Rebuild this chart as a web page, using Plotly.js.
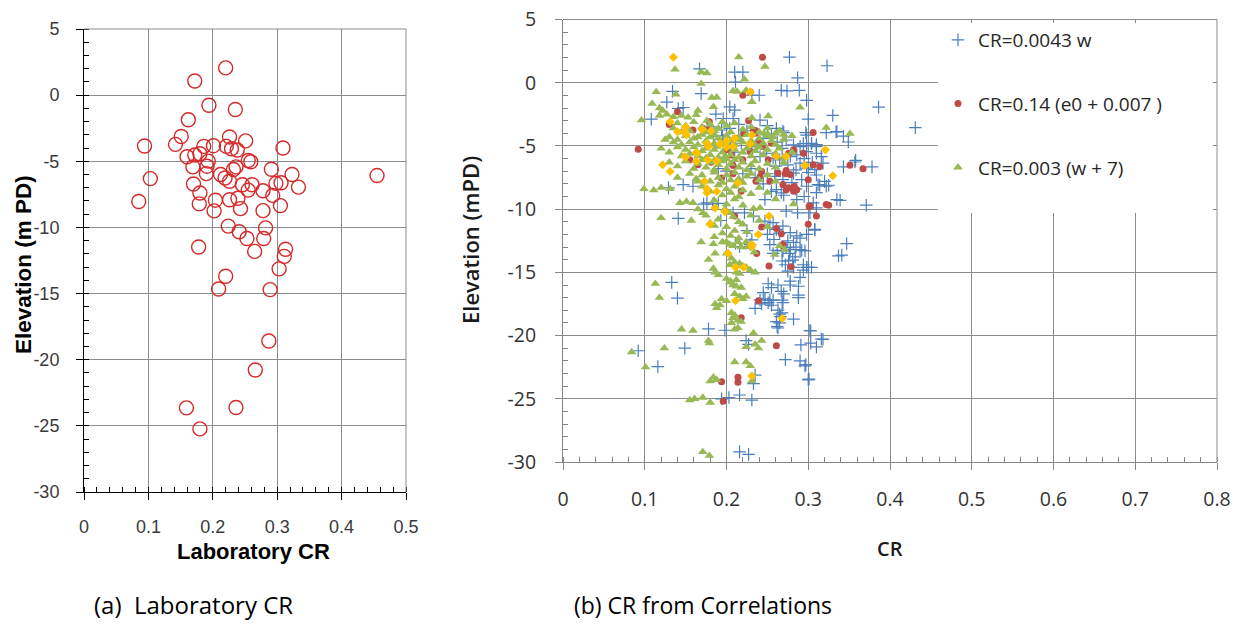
<!DOCTYPE html>
<html>
<head>
<meta charset="utf-8">
<script src="https://cdn.plot.ly/plotly-3.0.1.min.js"></script>
<style>html,body{margin:0;padding:0;background:#fff;}#chart{width:1238px;height:624px;}</style>
</head>
<body>
<div id="chart"></div>
<script>
// ---------- (a) Laboratory CR ----------
const labCR = [0.220,0.172,0.194,0.235,0.162,0.094,0.142,0.151,0.226,0.251,0.186,0.201,0.221,0.238,0.229,0.309,0.160,0.172,0.180,0.193,0.191,0.190,0.169,0.259,0.255,0.236,0.232,0.291,0.323,0.455,0.103,0.212,0.219,0.226,0.170,0.246,0.261,0.298,0.306,0.333,0.180,0.255,0.278,0.293,0.226,0.239,0.204,0.085,0.179,0.243,0.202,0.278,0.305,0.224,0.241,0.282,0.253,0.279,0.178,0.265,0.313,0.311,0.303,0.220,0.209,0.289,0.287,0.266,0.159,0.236,0.180];
const labElev = [2.06,1.07,-0.76,-1.09,-1.86,-3.84,-3.72,-3.13,-3.16,-3.46,-3.87,-3.82,-3.87,-4.15,-4.05,-4.00,-4.66,-4.53,-4.43,-4.99,-5.37,-5.93,-5.42,-5.04,-4.94,-5.42,-5.62,-5.60,-6.00,-6.08,-6.31,-6.00,-6.26,-6.51,-6.72,-6.77,-6.77,-6.67,-6.62,-6.95,-7.40,-7.18,-7.23,-7.58,-7.91,-7.79,-7.94,-8.04,-8.22,-8.58,-8.75,-8.73,-8.35,-9.90,-10.33,-10.03,-10.84,-10.84,-11.48,-11.81,-11.65,-12.19,-13.13,-13.69,-14.65,-14.70,-18.59,-20.78,-23.64,-23.61,-25.23];

// ---------- (b) CR from correlations ----------
// CR = 0.0043 w
const crW_x = [0.277,0.323,0.167,0.210,0.220,0.211,0.287,0.134,0.169,0.231,0.240,0.267,0.274,0.289,0.127,0.298,0.386,0.431,0.141,0.147,0.204,0.210,0.108,0.330,0.187,0.196,0.208,0.241,0.300,0.261,0.269,0.322,0.335,0.298,0.194,0.204,0.184,0.196,0.218,0.231,0.237,0.273,0.282,0.290,0.298,0.304,0.310,0.310,0.316,0.298,0.286,0.278,0.265,0.257,0.249,0.241,0.290,0.298,0.308,0.318,0.259,0.269,0.282,0.292,0.261,0.267,0.298,0.312,0.322,0.335,0.147,0.159,0.129,0.176,0.190,0.247,0.286,0.306,0.273,0.287,0.302,0.310,0.141,0.208,0.222,0.233,0.247,0.257,0.308,0.253,0.261,0.269,0.278,0.286,0.282,0.273,0.231,
0.334,0.343,0.349,0.297,0.270,0.294,0.304,0.310,0.358,0.378,0.339,0.371,0.347,0.341,0.357,0.343,0.314,0.325,0.308,0.294,0.300,0.304,0.292,0.284,0.281,0.268,0.272,0.276,0.262,0.268,0.277,0.251,0.255,0.263,0.267,0.270,0.278,0.288,0.288,0.245,0.241,0.251,0.268,0.288,
0.235,0.263,0.268,0.266,0.261,0.262,0.282,0.303,0.316,0.291,0.303,0.310,0.272,0.290,0.297,0.301,0.235,0.231,
0.216,0.253,0.257,0.269,0.278,0.290,0.133,0.140,0.178,0.198,0.224,0.227,0.092,0.149,0.116,0.233,0.216,0.203,0.194,0.216,0.227,0.247,0.243,0.253,0.255,0.265,0.265,0.263,0.302,0.318,0.296,0.300,0.275,0.282,0.294,0.298,0.337,0.257,0.269,0.278,0.290,
0.172,0.183,0.193,0.211,0.229,0.225,
0.205,0.210,0.215,0.225,0.245,0.250,0.255,0.262,0.268,0.275,0.285,0.295,0.305,0.310,0.280,0.270,0.285,0.295,0.310,0.320,0.300,0.260,0.250,0.245,0.255,0.235,0.230,0.220,0.210,0.200,0.190,0.195,0.215,0.180,0.250,0.258,0.265,0.275,0.290,0.298,0.285,0.296];
const crW_y = [2.02,1.34,1.10,0.84,0.84,0.05,0.39,-0.68,-0.86,-0.99,-0.99,-0.60,-0.65,-0.60,-1.54,-1.39,-1.93,-3.55,-2.04,-1.96,-1.91,-2.17,-2.88,-2.59,-2.49,-2.83,-2.83,-2.96,-2.88,-3.61,-3.82,-3.95,-3.87,-4.14,-3.74,-3.61,-4.27,-4.53,-4.79,-5.31,-5.05,-4.53,-4.92,-5.05,-5.00,-4.79,-5.05,-5.58,-5.84,-5.45,-5.71,-5.84,-6.10,-5.97,-5.58,-5.84,-6.36,-6.75,-6.88,-6.36,-7.41,-7.67,-7.15,-7.67,-8.46,-8.72,-8.19,-8.06,-8.19,-9.24,-8.06,-8.19,-8.32,-9.50,-9.55,-9.24,-9.24,-9.50,-10.16,-10.29,-10.29,-9.90,-10.73,-10.29,-10.29,-10.55,-10.94,-11.07,-11.60,-11.47,-11.60,-11.34,-11.86,-12.12,-12.64,-13.04,-12.43,
-3.90,-4.22,-4.69,-3.95,-3.95,-4.82,-4.82,-4.90,-6.14,-6.66,-9.30,-9.69,-12.72,-13.64,-6.27,-6.66,-8.11,-8.11,-11.67,-14.83,-14.60,-14.60,-13.25,-13.78,-14.04,-14.10,-14.40,-14.10,-13.26,-13.26,-13.50,-15.90,-16.20,-16.00,-16.50,-16.70,-16.00,-16.10,-16.80,-16.60,-17.20,-17.40,-17.20,-17.00,
-17.85,-17.99,-18.20,-18.50,-18.90,-19.30,-18.70,-19.64,-20.27,-20.74,-20.60,-20.90,-21.90,-22.00,-22.30,-23.44,-23.13,-25.10,
-12.96,-12.80,-13.50,-13.30,-13.20,-13.20,-15.79,-17.04,-19.47,-19.58,-20.40,-20.70,-21.20,-21.00,-22.46,-23.80,-24.70,-24.90,-25.00,-29.20,-29.40,-17.10,-17.50,-17.20,-17.60,-18.30,-19.00,-19.40,-19.60,-20.30,-22.40,-23.50,-14.90,-14.60,-14.40,-14.60,-13.70,-17.20,-17.40,-15.70,-15.40,
-9.60,-9.60,-10.90,-12.70,-12.80,-11.70,
-4.90,-5.50,-4.20,-3.80,-4.40,-3.40,-4.10,-4.70,-5.20,-6.50,-6.90,-6.00,-6.30,-7.30,-7.90,-8.90,-8.40,-9.00,-8.70,-7.80,-7.10,-6.60,-7.20,-8.00,-8.60,-7.50,-6.80,-7.20,-6.60,-7.00,-6.80,-4.20,-3.30,-3.50,-12.00,-12.40,-11.90,-12.50,-12.30,-12.00,-13.00,-13.30];

// CR = 0.14 (e0 + 0.007)
const crE_x = [0.244,0.092,0.140,0.130,0.179,0.220,0.229,0.227,0.233,0.236,0.221,0.306,0.159,0.171,0.178,0.206,0.208,0.220,0.239,0.244,0.255,0.251,0.243,0.241,0.253,0.263,0.269,0.273,0.282,0.286,0.282,0.294,0.276,0.306,0.314,0.300,0.302,0.300,0.310,0.322,0.194,0.208,0.218,0.210,0.243,0.261,0.267,0.155,0.165,0.229,0.273,0.351,0.367,0.325,0.301,0.279,0.252,0.237,0.239,0.269,0.218,0.261,0.194,0.214,0.214,0.196,0.272,0.278,0.269,0.276,0.283,0.235,0.181,0.200,0.236];
const crE_y = [2.02,-5.26,-2.30,-3.30,-3.09,-0.99,-0.73,-3.01,-3.74,-3.80,-4.00,-3.93,-3.74,-3.61,-3.74,-5.71,-6.54,-6.10,-4.66,-5.05,-4.79,-6.10,-7.02,-7.41,-7.80,-7.15,-8.06,-8.46,-8.59,-8.46,-5.31,-5.58,-5.58,-6.49,-6.62,-7.67,-9.76,-11.20,-10.55,-9.63,-7.54,-7.20,-8.59,-10.55,-11.41,-11.54,-11.94,-6.10,-6.49,-5.45,-6.94,-6.53,-6.80,-9.69,-9.80,-14.56,-14.50,-13.50,-17.25,-12.90,-18.60,-20.80,-23.65,-23.30,-23.70,-25.20,-7.20,-7.25,-12.80,-8.30,-8.20,-4.00,-6.30,-5.30,-7.80];

// CR = 0.003 (w + 7)
const crW7_x = [0.215,0.137,0.247,0.169,0.176,0.222,0.169,0.114,0.138,0.208,0.213,0.224,0.109,0.096,0.182,0.188,0.184,0.231,0.251,0.290,0.322,0.118,0.122,0.127,0.118,0.135,0.145,0.153,0.163,0.165,0.176,0.351,0.246,0.251,0.257,0.231,0.231,
0.140,0.150,0.160,0.170,0.180,0.185,0.190,0.200,0.205,0.210,0.220,0.230,0.155,0.135,0.145,0.175,0.195,0.240,0.250,0.260,0.270,0.280,0.265,
0.130,0.140,0.150,0.155,0.160,0.165,0.170,0.175,0.180,0.185,0.190,0.195,0.200,0.205,0.210,0.215,0.220,0.225,0.230,0.235,0.240,0.245,0.250,0.255,0.260,0.270,0.145,0.135,0.125,0.165,0.185,0.200,0.213,
0.120,0.130,0.140,0.145,0.150,0.155,0.160,0.165,0.170,0.175,0.180,0.185,0.190,0.195,0.200,0.205,0.210,0.215,0.220,0.225,0.230,0.235,0.240,0.245,0.250,0.260,0.265,0.270,0.280,0.175,0.188,0.198,0.208,
0.130,0.140,0.150,0.160,0.165,0.170,0.175,0.180,0.185,0.190,0.195,0.200,0.205,0.210,0.215,0.220,0.225,0.230,0.235,0.240,0.250,0.260,0.270,0.185,0.200,
0.140,0.155,0.163,0.170,0.180,0.185,0.190,0.195,0.200,0.205,0.210,0.215,0.220,0.225,0.230,0.240,0.250,0.260,
0.099,0.111,0.120,0.131,0.170,0.180,0.190,0.195,0.200,0.205,0.210,0.215,0.220,0.230,0.240,0.250,0.143,0.151,0.159,0.185,0.200,0.210,0.220,0.233,0.241,0.282,0.260,0.165,
0.165,0.171,0.120,0.157,0.198,0.204,0.208,0.190,0.215,0.185,0.200,0.210,0.220,0.195,0.205,0.215,0.225,0.180,0.230,0.240,0.250,0.175,0.185,0.195,
0.169,0.184,0.186,0.200,0.204,0.208,0.214,0.218,0.224,0.226,0.234,0.259,0.265,0.271,0.200,0.206,0.210,0.204,0.216,0.220,0.224,0.212,0.216,0.229,0.235,0.184,0.186,0.178,0.190,
0.113,0.118,0.204,0.208,0.212,0.218,0.210,0.216,0.220,0.224,0.186,0.188,0.192,0.194,0.200,0.206,0.208,0.206,0.210,0.214,0.218,0.214,0.210,0.145,0.159,0.178,0.179,0.233,0.243,0.200,0.205,0.212,
0.124,0.084,0.101,0.224,0.235,0.239,0.210,0.224,0.229,0.180,0.184,0.188,0.231,0.155,0.161,0.171,0.180,0.171,0.179];
const crW7_y = [2.02,1.05,1.28,0.84,0.76,0.26,-0.08,-0.73,-0.92,-0.65,-0.70,-0.60,-1.65,-2.96,-1.18,-1.15,-1.91,-1.52,-2.64,-1.96,-3.56,-2.00,-2.20,-2.50,-2.60,-2.70,-2.60,-2.75,-2.55,-2.20,-3.00,-4.03,-4.00,-4.10,-4.30,-2.80,-1.50,
-3.20,-3.40,-3.10,-3.50,-3.30,-3.80,-3.60,-3.40,-3.90,-3.20,-3.70,-3.50,-3.80,-3.60,-3.90,-3.90,-3.10,-3.90,-3.60,-4.00,-4.10,-4.20,-3.80,
-4.30,-4.50,-4.20,-4.70,-4.40,-4.90,-4.10,-4.60,-4.30,-4.80,-4.40,-4.90,-4.20,-4.60,-4.90,-4.30,-4.70,-4.10,-4.60,-4.90,-4.40,-4.80,-4.20,-4.60,-4.90,-4.50,-4.90,-4.70,-4.50,-4.30,-4.10,-4.80,-4.50,
-5.20,-5.50,-5.10,-5.80,-5.30,-5.60,-5.10,-5.80,-5.40,-5.20,-5.70,-5.30,-5.90,-5.50,-5.10,-5.70,-5.30,-5.90,-5.50,-5.20,-5.80,-5.40,-5.10,-5.70,-5.30,-5.60,-5.20,-5.90,-5.50,-5.95,-5.05,-5.85,-5.05,
-6.30,-6.60,-6.20,-6.80,-6.40,-6.10,-6.70,-6.30,-6.90,-6.50,-6.20,-6.80,-6.40,-6.10,-6.70,-6.30,-6.90,-6.50,-6.20,-6.80,-6.40,-6.70,-6.30,-6.15,-6.05,
-7.50,-7.20,-7.60,-7.30,-7.80,-7.10,-7.50,-7.90,-7.30,-7.70,-7.10,-7.60,-7.90,-7.40,-7.20,-7.70,-7.30,-7.80,
-8.40,-8.50,-8.30,-8.40,-8.20,-8.60,-8.10,-8.90,-8.40,-8.70,-8.20,-9.00,-8.50,-8.80,-8.30,-8.70,-9.50,-9.40,-9.50,-9.30,-9.60,-9.20,-9.70,-9.97,-9.90,-9.60,-9.20,-7.80,
-10.00,-10.30,-10.70,-10.90,-10.00,-10.30,-10.60,-10.80,-11.00,-11.30,-11.40,-11.70,-11.20,-11.90,-12.10,-12.30,-11.80,-11.10,-10.50,-10.90,-11.40,-10.50,-12.20,-12.60,
-12.60,-12.75,-13.50,-12.60,-12.80,-12.90,-12.60,-13.00,-12.60,-13.00,-13.40,-13.60,-12.90,-13.20,-13.50,-13.90,-14.20,-14.40,-14.30,-14.50,-14.60,-15.00,-15.10,-14.80,-15.00,-14.70,-15.00,-14.00,-15.20,
-15.90,-17.00,-15.80,-16.00,-16.10,-16.20,-16.70,-16.90,-17.10,-16.90,-17.50,-17.80,-17.60,-17.10,-17.25,-18.20,-18.60,-19.00,-18.40,-18.80,-18.90,-19.40,-19.50,-19.50,-19.60,-20.40,-20.60,-19.80,-20.40,-15.50,-15.70,-15.60,
-21.00,-21.30,-22.50,-20.90,-20.70,-21.00,-22.10,-22.10,-22.40,-23.60,-23.30,-23.50,-23.60,-25.10,-25.00,-24.90,-25.30,-29.20,-29.50];

// unlabelled series (yellow diamonds)
const crY_x = [0.135,0.229,0.131,0.140,0.149,0.151,0.150,0.170,0.181,0.176,0.122,0.131,0.149,0.163,0.173,0.176,0.176,0.188,0.186,0.198,0.180,0.214,0.252,0.231,0.321,0.330,0.296,0.273,0.261,0.231,0.229,0.210,0.208,0.178,0.192,0.163,0.164,0.150,0.177,0.188,0.200,0.200,0.239,0.231,0.202,0.211,0.221,0.211,0.268,0.231];
const crY_y = [2.02,-0.73,-3.09,-3.87,-3.87,-4.14,-3.50,-3.70,-3.80,-4.80,-6.49,-7.02,-5.84,-5.52,-7.80,-8.40,-8.70,-8.60,-9.90,-10.20,-11.20,-7.93,-10.55,-12.80,-5.31,-7.36,-6.54,-5.84,-5.84,-4.14,-4.84,-4.40,-5.05,-5.05,-4.84,-6.23,-5.60,-5.90,-6.10,-6.20,-4.60,-5.10,-12.00,-12.96,-13.50,-14.60,-14.60,-17.25,-18.65,-23.20];

const legendNames = ['CR=0.0043 w', 'CR=0.14 (e0 + 0.007 )', 'CR=0.003 (w + 7)'];
const xTicksLeft = ['0', '0.1', '0.2', '0.3', '0.4', '0.5'];
const xTicksRight = ['0', '0.1', '0.2', '0.3', '0.4', '0.5', '0.6', '0.7', '0.8'];
const yTicks = ['-30', '-25', '-20', '-15', '-10', '-5', '0', '5'];

const W = 1238, H = 624;
const px = v => v / W;
const py = v => 1 - v / H;

const traces = [
  {x: labCR, y: labElev, xaxis: 'x', yaxis: 'y', type: 'scatter', mode: 'markers', showlegend: false,
   marker: {symbol: 'circle-open', size: 14, color: 'rgb(214,40,40)', line: {width: 1.4, color: 'rgb(214,40,40)'}}},
  {x: crW_x, y: crW_y, xaxis: 'x2', yaxis: 'y2', type: 'scatter', mode: 'markers', name: legendNames[0], legendgroup: 'a',
   marker: {symbol: 'cross-thin-open', size: 9, color: '#4A7EBB', line: {width: 1.2, color: '#4A7EBB'}}},
  {x: crE_x, y: crE_y, xaxis: 'x2', yaxis: 'y2', type: 'scatter', mode: 'markers', name: legendNames[1], legendgroup: 'b',
   marker: {symbol: 'circle', size: 7, color: '#BE4B48'}},
  {x: crW7_x, y: crW7_y, xaxis: 'x2', yaxis: 'y2', type: 'scatter', mode: 'markers', name: legendNames[2], legendgroup: 'c',
   marker: {symbol: 'triangle-up', size: 8.5, color: '#98B954'}},
  {x: crY_x, y: crY_y, xaxis: 'x2', yaxis: 'y2', type: 'scatter', mode: 'markers', showlegend: false,
   marker: {symbol: 'diamond', size: 7, color: '#FFC000'}}
];

const leftFont = {family: 'Liberation Sans, Arial, sans-serif', size: 18, color: '#3a3a3a'};
const rightFont = {family: 'Open Sans, sans-serif', size: 19.5, color: '#333'};

function axisCommon(lineColor, tickColor, font) {
  return {showline: true, linecolor: lineColor, linewidth: 1, showgrid: true, gridcolor: '#8c8c8c', gridwidth: 1,
          zeroline: false, ticks: 'outside', ticklen: 7, tickcolor: tickColor, tickwidth: 1, tickfont: font, fixedrange: true};
}

const layout = {
  width: W, height: H, margin: {l: 0, r: 0, t: 0, b: 0},
  paper_bgcolor: '#fff', plot_bgcolor: '#fff',
  showlegend: true,
  xaxis: Object.assign(axisCommon('#000', '#000', leftFont), {
    domain: [px(84), px(406)], range: [0, 0.5], anchor: 'y', ticklabelstandoff: 11,
    tickmode: 'array', tickvals: xTicksLeft.map(Number), ticktext: xTicksLeft,
    minor: {tick0: 0, dtick: 0.02, ticks: 'inside', ticklen: 5, tickcolor: '#000', showgrid: false}}),
  yaxis: Object.assign(axisCommon('#000', '#000', leftFont), {
    domain: [py(492), py(29)], range: [-30, 5], anchor: 'x', ticklabelstandoff: 13,
    tickmode: 'array', tickvals: yTicks.map(Number), ticktext: yTicks,
    minor: {tick0: 0, dtick: 1, ticks: 'inside', ticklen: 5, tickcolor: '#000', showgrid: false}}),
  xaxis2: Object.assign(axisCommon('#868686', '#868686', rightFont), {
    domain: [px(563), px(1217)], range: [0, 0.8], anchor: 'y2', ticklabelstandoff: 13,
    tickmode: 'array', tickvals: xTicksRight.map(Number), ticktext: xTicksRight,
    minor: {tick0: 0, dtick: 0.02, ticks: 'inside', ticklen: 5, tickcolor: '#868686', showgrid: false}}),
  yaxis2: Object.assign(axisCommon('#868686', '#868686', rightFont), {
    domain: [py(462), py(19.5)], range: [-30, 5], anchor: 'x2', ticklabelstandoff: 15,
    tickmode: 'array', tickvals: yTicks.map(Number), ticktext: yTicks,
    minor: {tick0: 0, dtick: 1, ticks: 'inside', ticklen: 5, tickcolor: '#868686', showgrid: false}}),
  legend: {x: px(938), y: py(21), xanchor: 'left', yanchor: 'top', bgcolor: 'rgba(0,0,0,0)', borderwidth: 0,
           font: {family: 'Open Sans, sans-serif', size: 19, color: '#262626'},
           traceorder: 'grouped', tracegroupgap: 36, itemwidth: 30},
  shapes: [
    {type: 'line', xref: 'x domain', yref: 'y domain', x0: 0, x1: 1, y0: 1, y1: 1, line: {color: '#8c8c8c', width: 1}},
    {type: 'line', xref: 'x domain', yref: 'y domain', x0: 1, x1: 1, y0: 0, y1: 1, line: {color: '#8c8c8c', width: 1}},
    {type: 'line', xref: 'x2 domain', yref: 'y2 domain', x0: 0, x1: 1, y0: 1, y1: 1, line: {color: '#8c8c8c', width: 1}},
    {type: 'line', xref: 'x2 domain', yref: 'y2 domain', x0: 1, x1: 1, y0: 0, y1: 1, line: {color: '#8c8c8c', width: 1}},
    {type: 'rect', xref: 'paper', yref: 'paper', x0: px(938), x1: px(1213), y0: py(213), y1: py(23),
     fillcolor: '#fff', line: {width: 0}, layer: 'above'}
  ],
  annotations: [
    {text: '<b>Elevation (m PD)</b>', xref: 'paper', yref: 'paper', x: px(23), y: py(265), textangle: -90,
     showarrow: false, xanchor: 'center', yanchor: 'middle', font: {family: 'Liberation Sans, Arial, sans-serif', size: 22.5, color: '#000'}},
    {text: '<b>Laboratory CR</b>', xref: 'paper', yref: 'paper', x: px(253), y: py(551),
     showarrow: false, xanchor: 'center', yanchor: 'middle', font: {family: 'Liberation Sans, Arial, sans-serif', size: 22, color: '#000'}},
    {text: 'Elevation (mPD)', xref: 'paper', yref: 'paper', x: px(470), y: py(240), textangle: -90,
     showarrow: false, xanchor: 'center', yanchor: 'middle', font: {family: 'Open Sans, sans-serif', size: 22, weight: 600, color: '#1a1a1a'}},
    {text: 'CR', xref: 'paper', yref: 'paper', x: px(890), y: py(548),
     showarrow: false, xanchor: 'center', yanchor: 'middle', font: {family: 'Open Sans, sans-serif', size: 20, weight: 600, color: '#1a1a1a'}},
    {text: '(a)\u00a0 Laboratory CR', xref: 'paper', yref: 'paper', x: px(92), y: py(604),
     showarrow: false, xanchor: 'left', yanchor: 'middle', font: {family: 'Open Sans, sans-serif', size: 24, color: '#000'}},
    {text: '(b) CR from Correlations', xref: 'paper', yref: 'paper', x: px(572), y: py(605),
     showarrow: false, xanchor: 'left', yanchor: 'middle', font: {family: 'Open Sans, sans-serif', size: 23, color: '#000'}}
  ]
};

Plotly.newPlot('chart', traces, layout, {displayModeBar: false, staticPlot: true});
</script>
</body>
</html>
